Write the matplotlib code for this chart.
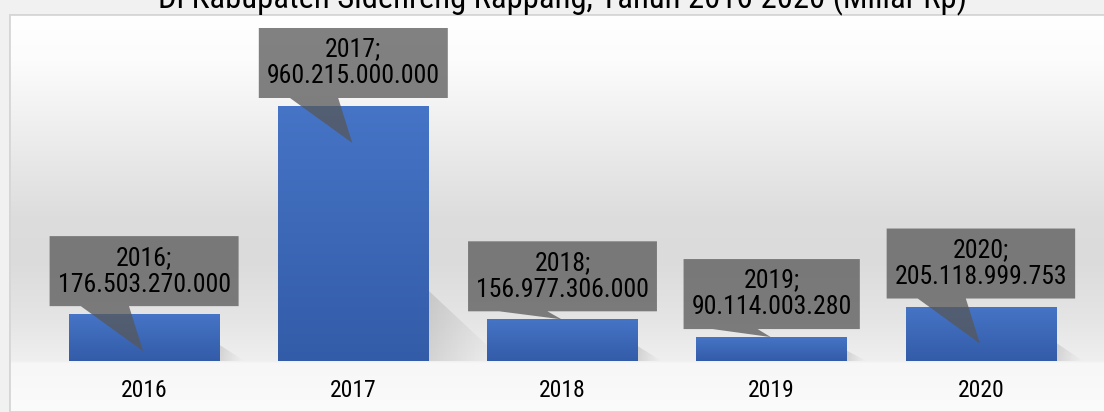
import numpy as np
import matplotlib
matplotlib.use("Agg")
import matplotlib.pyplot as plt
from matplotlib.colors import LinearSegmentedColormap
from matplotlib.patches import Polygon, Rectangle
from matplotlib.transforms import IdentityTransform
from matplotlib import font_manager

# data
years = ["2016", "2017", "2018", "2019", "2020"]
values = [176503270000, 960215000000, 156977306000, 90114003280, 205118999753]
title = "Di Kabupaten Sidenreng Rappang, Tahun 2016-2020 (Miliar Rp)"

# look for a narrow sans face, otherwise a condensed stretch, otherwise plain + smaller
ttf = font_manager.fontManager.ttflist
names = {f.name for f in ttf}
stretch = "normal"
shrink = 1.0
pick = next((c for c in ["Liberation Sans Narrow", "Arial Narrow", "Roboto Condensed",
                         "Open Sans Condensed", "Noto Sans Condensed"] if c in names), None)
if pick is None:
    cond = [f.name for f in ttf if str(f.stretch) in ("condensed", "semi-condensed", "75", "87")
            and f.name in ("Noto Sans", "Open Sans", "Roboto", "Liberation Sans", "Inter", "Lato")]
    if cond:
        pick = cond[0]
        stretch = "condensed"
    else:
        pick = "Liberation Sans"
        shrink = 0.84
narrow = [pick, "DejaVu Sans"]
font = dict(family=narrow, fontstretch=stretch)


def fmt(v):
    return f"{v:,}".replace(",", ".")


W, H = 1104, 412
fig = plt.figure(figsize=(W / 100, H / 100), dpi=100, facecolor="#f1f1f1")

# background panel with vertical gradient
bg = fig.add_axes([9 / W, 0, (W - 4) / W, (H - 14) / H], zorder=0)
rows = np.arange(14, H)
stops_y = [14, 60, 130, 215, 260, 320, 360, 363, 412]
stops_c = [255, 252, 238, 221, 219, 229, 239, 247, 251]
shade = np.interp(rows, stops_y, stops_c) / 255.0
img = np.repeat(shade[:, None, None], 3, axis=2)
bg.imshow(img, aspect="auto", extent=[0, 1, 0, 1])
bg.add_patch(Rectangle((0, 0), 1, 1, transform=bg.transAxes, fill=False,
                       edgecolor="#d6d6d6", lw=2, clip_on=True))
bg.set_xlim(0, 1)
bg.set_ylim(0, 1)
bg.axis("off")

# main axes
ax = fig.add_axes([39.5 / W, 51 / H, 1046 / W, 347 / H], zorder=1)
ax.patch.set_alpha(0)
for s in ax.spines.values():
    s.set_visible(False)

x = np.arange(len(years))
vals_b = np.array(values) / 1e9
ax.set_xlim(-0.5, 4.5)
ax.set_ylim(0, 1306.6)
ax.set_yticks([])
ax.set_xticks(x, years, fontsize=17 * shrink, **font)
ax.tick_params(axis="x", length=0, pad=13, colors="#000000")

bars = ax.bar(x, vals_b, width=0.72, color="#4472c4", zorder=3)
bar_cmap = LinearSegmentedColormap.from_list("bar", ["#335ca8", "#4674c6"])
grad = np.linspace(0, 1, 256).reshape(-1, 1)
to_px = ax.transData.transform
to_dat = ax.transData.inverted().transform

for b in bars:
    x0, w, h = b.get_x(), b.get_width(), b.get_height()
    # faint perspective shadow on the floor
    (xr, yb), (_, yt) = to_px((x0 + w, 0)), to_px((x0 + w, h))
    hp = yt - yb
    ext_x, ext_y = 0.24 * hp + 14, 0.26 * hp + 4
    tri = [to_dat((xr, yb)), to_dat((xr, yb + ext_y)), to_dat((xr + ext_x, yb))]
    sh = np.zeros((2, 64, 4))
    sh[..., :3] = 0.45
    sh[..., 3] = np.linspace(0.28, 0.0, 64)[None, :] ** 1.2
    (sx0, sy0), (sx1, sy1) = to_dat((xr, yb)), to_dat((xr + ext_x, yb + ext_y))
    sim = ax.imshow(sh, extent=[sx0, sx1, sy0, sy1], aspect="auto", zorder=2,
                    interpolation="bilinear")
    sim.set_clip_path(Polygon(tri, transform=ax.transData))
    # vertical gradient on bar
    im = ax.imshow(grad, extent=[x0, x0 + w, 0, h], origin="lower", aspect="auto",
                   cmap=bar_cmap, zorder=3.1)
    im.set_clip_path(b)

ax.set_xlim(-0.5, 4.5)
ax.set_ylim(0, 1306.6)

# callouts
renderer = fig.canvas.get_renderer()
for i, b in enumerate(bars):
    bx, top = to_px((x[i], vals_b[i]))
    _, base = to_px((x[i], 0))
    box_b = top + 8
    box_t = box_b + 70
    t = ax.text(bx, box_b + 35, f"{years[i]};\n{fmt(values[i])}", ha="center", va="center",
                fontsize=18.5 * shrink, linespacing=1.15, color="#000000",
                transform=IdentityTransform(), zorder=6, **font)
    hw = t.get_window_extent(renderer).width / 2 + 8
    L, R = bx - hw, bx + hw
    b1, b2 = L + 0.165 * (R - L), L + 0.42 * (R - L)
    tip_y = top - 37 if top - base > 45 else top
    poly = Polygon([(L, box_t), (R, box_t), (R, box_b), (b2, box_b), (bx - 1, tip_y),
                    (b1, box_b), (L, box_b)], closed=True, transform=IdentityTransform(),
                   facecolor="#575757", alpha=0.75, edgecolor="none", zorder=5, clip_on=False)
    ax.add_patch(poly)

# title, fitted to the reference width
tt = fig.text(562 / W, (H - 8) / H, title, ha="center", va="baseline", fontsize=20,
              color="#000000", **font)
tw = tt.get_window_extent(renderer).width
tt.set_fontsize(20 * 805 / tw)

fig.savefig("out.png", dpi=100, facecolor=fig.get_facecolor())
